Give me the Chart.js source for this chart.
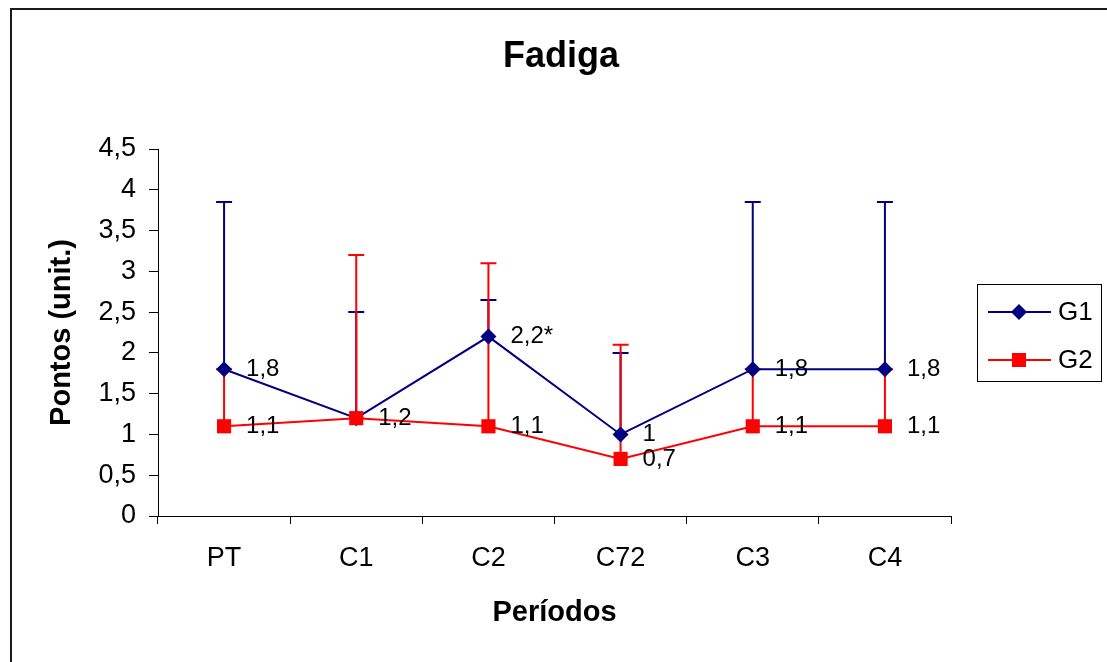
<!DOCTYPE html>
<html>
<head>
<meta charset="utf-8">
<script src="https://cdn.jsdelivr.net/npm/chart.js@4/dist/chart.umd.min.js"></script>
<style>
  html, body { margin: 0; padding: 0; background: #fff; }
  #wrap { position: relative; width: 1107px; height: 662px; }
  #frame { position: absolute; left: 10px; top: 8px; right: 0; bottom: 0;
           border-left: 2px solid #1a1a1a; border-top: 2px solid #1a1a1a; pointer-events: none; }
</style>
</head>
<body>
<div id="wrap">
  <canvas id="c" width="1107" height="662"></canvas>
  <div id="frame"></div>
</div>
<script>
/* ── Data ─────────────────────────────────────────────────── */
const PERIODS   = ["PT", "C1", "C2", "C72", "C3", "C4"];
const G1_MEAN   = [1.8, 1.2, 2.2, 1.0, 1.8, 1.8];
const G2_MEAN   = [1.1, 1.2, 1.1, 0.7, 1.1, 1.1];
const G1_UPPER  = [3.85, 2.5, 2.65, 2.0, 3.85, 3.85];
const G2_UPPER  = [1.8, 3.2, 3.1, 2.1, 1.8, 1.8];
const G1_LABELS = ["1,8", "1,2", "2,2*", "1", "1,8", "1,8"];
const G2_LABELS = ["1,1", "", "1,1", "0,7", "1,1", "1,1"];

const NAVY = "#000080", RED = "#ff0000";
const FONT = "'Liberation Sans', Arial, Helvetica, sans-serif";
Chart.defaults.font.family = FONT;
Chart.defaults.color = "#000";

/* ── Plugins ──────────────────────────────────────────────── */
// upper error bars, drawn under the lines
const errorBars = {
  id: "errorBars",
  beforeDatasetsDraw(chart) {
    const { ctx, scales: { x, y } } = chart;
    chart.data.datasets.forEach(ds => {
      ctx.save();
      ctx.strokeStyle = ds.borderColor;
      ctx.lineWidth = 2;
      ds.upper.forEach((u, j) => {
        const px = x.getPixelForValue(j);
        const y0 = y.getPixelForValue(ds.data[j]);
        const y1 = y.getPixelForValue(u);
        ctx.beginPath();
        ctx.moveTo(px, y0); ctx.lineTo(px, y1);
        ctx.moveTo(px - 8, y1); ctx.lineTo(px + 8, y1);
        ctx.stroke();
      });
      ctx.restore();
    });
  },
};

// value labels to the right of each point
const valueLabels = {
  id: "valueLabels",
  afterDatasetsDraw(chart) {
    const { ctx, scales: { x, y } } = chart;
    ctx.save();
    ctx.font = "24px " + FONT;
    ctx.fillStyle = "#000";
    ctx.textAlign = "left";
    ctx.textBaseline = "middle";
    chart.data.datasets.forEach(ds => {
      ds.labels.forEach((t, j) => {
        if (!t) return;
        ctx.fillText(t, x.getPixelForValue(j) + 22, y.getPixelForValue(ds.data[j]));
      });
    });
    ctx.restore();
  },
};

// title centred on the whole frame, and boxed legend with line + marker
const frameDecor = {
  id: "frameDecor",
  afterDraw(chart) {
    const ctx = chart.ctx;
    ctx.save();
    ctx.fillStyle = "#000";
    ctx.font = "bold 36px " + FONT;
    ctx.textAlign = "center"; ctx.textBaseline = "middle";
    ctx.fillText("Fadiga", 561, 57);

    const bx = 977, by = 284, bw = 124, bh = 97;
    ctx.strokeStyle = "#000"; ctx.lineWidth = 1;
    ctx.strokeRect(bx + 0.5, by + 0.5, bw, bh);
    chart.data.datasets.forEach((ds, i) => {
      const ly = by + 28 + i * 48;
      ctx.strokeStyle = ds.borderColor; ctx.lineWidth = 2;
      ctx.beginPath(); ctx.moveTo(988, ly); ctx.lineTo(1051, ly); ctx.stroke();
      ctx.fillStyle = ds.borderColor;
      ctx.beginPath();
      if (ds.pointStyle === "rectRot") {
        ctx.moveTo(1019, ly - 8); ctx.lineTo(1027, ly); ctx.lineTo(1019, ly + 8); ctx.lineTo(1011, ly);
      } else {
        ctx.rect(1012, ly - 7, 14, 14);
      }
      ctx.closePath(); ctx.fill();
      ctx.fillStyle = "#000";
      ctx.font = "26px " + FONT;
      ctx.textAlign = "left"; ctx.textBaseline = "middle";
      ctx.fillText(ds.label, 1058, ly + 1);
    });
    ctx.restore();
  },
};

/* ── Chart ────────────────────────────────────────────────── */
new Chart(document.getElementById("c"), {
  type: "line",
  data: {
    labels: PERIODS,
    datasets: [
      { label: "G1", data: G1_MEAN, upper: G1_UPPER, labels: G1_LABELS,
        borderColor: NAVY, backgroundColor: NAVY, borderWidth: 2,
        pointStyle: "rectRot", pointRadius: 8, pointBorderWidth: 0,
        tension: 0, order: 1 },
      { label: "G2", data: G2_MEAN, upper: G2_UPPER, labels: G2_LABELS,
        borderColor: RED, backgroundColor: RED, borderWidth: 2,
        pointStyle: "rect", pointRadius: 10, pointBorderWidth: 0,
        tension: 0, order: 0 },
    ],
  },
  options: {
    responsive: false,
    animation: false,
    layout: { padding: { left: 20, right: 156, top: 149, bottom: 10 } },
    plugins: {
      legend: { display: false },
      tooltip: { enabled: false },
      title: { display: false },
    },
    scales: {
      x: {
        offset: true,
        grid: { offset: true, drawOnChartArea: false, drawTicks: true, tickLength: 8, color: "#000" },
        border: { display: true, color: "#000", width: 1 },
        ticks: { font: { size: 27 }, color: "#000", padding: 18, maxRotation: 0 },
        title: { display: true, text: "Períodos", font: { size: 29, weight: "bold" },
                 color: "#000", padding: { top: 0, bottom: 22 } },
        afterFit(s) { s.height = 136; },
      },
      y: {
        min: 0, max: 4.5,
        grid: { drawOnChartArea: false, drawTicks: true, tickLength: 9, color: "#000" },
        border: { display: true, color: "#000", width: 1 },
        ticks: { stepSize: 0.5, font: { size: 27 }, color: "#000", padding: 13,
                 callback: v => String(v).replace(".", ",") },
        title: { display: true, text: "Pontos (unit.)", font: { size: 29, weight: "bold" },
                 color: "#000", padding: { top: 25, bottom: 0 } },
        afterFit(s) { s.width = 138; },
      },
    },
  },
  plugins: [errorBars, valueLabels, frameDecor],
});
</script>
</body>
</html>
